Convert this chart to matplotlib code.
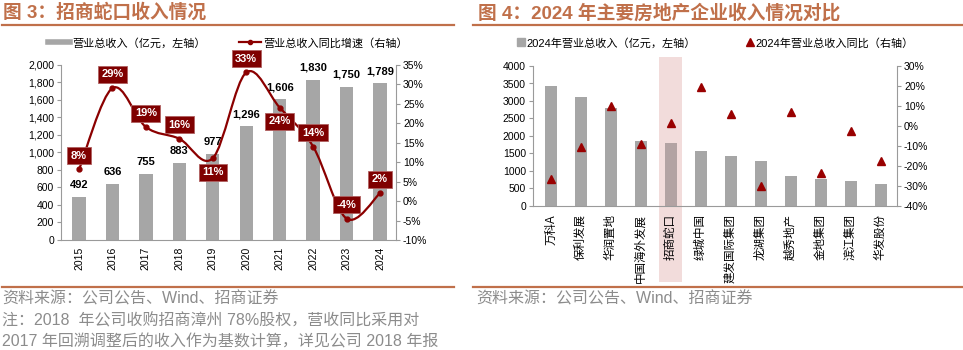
import matplotlib
matplotlib.use("Agg")
import matplotlib.pyplot as plt
from matplotlib.lines import Line2D
from matplotlib.patches import Rectangle
from matplotlib.path import Path
from matplotlib.patches import PathPatch
import matplotlib.transforms as mtransforms
from matplotlib.ticker import FuncFormatter, MultipleLocator

plt.rcParams['font.family'] = ['Liberation Sans', 'Noto Sans CJK SC', 'DejaVu Sans']

# ---------------- data ----------------
years = ['2015', '2016', '2017', '2018', '2019', '2020', '2021', '2022', '2023', '2024']
revenue = [492, 636, 755, 883, 977, 1296, 1606, 1830, 1750, 1789]
growth = [8.1, 29.0, 19.0, 16.0, 11.0, 33.0, 24.0, 14.0, -4.5, 2.0]
growth_labels = ['8%', '29%', '19%', '16%', '11%', '33%', '24%', '14%', '-4%', '2%']
label_above = [True, True, True, True, False, True, False, True, True, True]

companies = ['万科A', '保利发展', '华润置地', '中国海外发展', '招商蛇口', '绿城中国',
             '建发国际集团', '龙湖集团', '越秀地产', '金地集团', '滨江集团', '华发股份']
rev2024 = [3431, 3117, 2788, 1860, 1789, 1585, 1435, 1277, 866, 770, 707, 619]
yoy2024 = [-26.6, -10.5, 10.2, -9.0, 1.7, 19.7, 5.8, -29.8, 7.0, -23.6, -2.3, -17.3]
highlight = '招商蛇口'

TITLE_C = '#C0704A'
GREY = '#A6A6A6'
SPINE = '#9A9A9A'
RED = '#8B0000'
BOX = '#7F0000'
FOOT = '#8C8C8C'

fig = plt.figure(figsize=(9.63, 3.5), dpi=100)
W, H = 963.0, 350.0

def fx(px):
    return px / W

def fy(py):
    return 1 - py / H

# ---------------- titles and rules ----------------
fig.text(fx(3), fy(13), '图 3：招商蛇口收入情况', fontsize=13.5, fontweight='bold',
         color=TITLE_C, va='center', ha='left')
fig.text(fx(478), fy(13), '图 4：2024 年主要房地产企业收入情况对比', fontsize=13.5,
         fontweight='bold', color=TITLE_C, va='center', ha='left')
for x0, x1 in [(2, 454), (473, 963)]:
    fig.add_artist(Line2D([fx(x0), fx(x1)], [fy(25), fy(25)], color=TITLE_C, lw=1.6,
                          transform=fig.transFigure))
    fig.add_artist(Line2D([fx(x0), fx(x1)], [fy(286.5), fy(286.5)], color=TITLE_C, lw=1.6,
                          transform=fig.transFigure))

fig.text(fx(2), fy(299), '资料来源：公司公告、Wind、招商证券', fontsize=11.5, color=FOOT,
         va='center', ha='left')
fig.text(fx(2), fy(321), '注：2018  年公司收购招商漳州 78%股权，营收同比采用对', fontsize=11.5,
         color=FOOT, va='center', ha='left')
fig.text(fx(2), fy(342), '2017 年回溯调整后的收入作为基数计算，详见公司 2018 年报', fontsize=11.5,
         color=FOOT, va='center', ha='left')
fig.text(fx(476), fy(299), '资料来源：公司公告、Wind、招商证券', fontsize=11.5, color=FOOT,
         va='center', ha='left')

# ---------------- left chart ----------------
ax1 = fig.add_axes([fx(61), fy(240), fx(396) - fx(61), fy(64.7) - fy(240)])
x = list(range(len(years)))
ax1.bar(x, revenue, width=0.4, color=GREY, zorder=2)
ax1.set_ylim(0, 2000)
ax1.set_xlim(-0.54, 9.48)
ax1.yaxis.set_major_locator(MultipleLocator(200))
ax1.yaxis.set_major_formatter(FuncFormatter(lambda v, p: f'{int(v):,}'))
ax1.set_xticks(x)
ax1.set_xticklabels(years, rotation=90, fontsize=7.5)
ax1.tick_params(axis='x', length=0, pad=5)
ax1.tick_params(axis='y', labelsize=7.5, length=3, color=SPINE, direction='out', pad=2)
for s in ['top', 'right']:
    ax1.spines[s].set_visible(False)
for s in ['left', 'bottom']:
    ax1.spines[s].set_color(SPINE)
for xi, v in zip(x, revenue):
    ax1.annotate(f'{v:,}', (xi, v), xytext=(0, 5), textcoords='offset points',
                 ha='center', va='bottom', fontsize=8, fontweight='bold', color='black')

ax1b = ax1.twinx()
ax1b.set_ylim(-10, 35)
ax1b.yaxis.set_major_locator(MultipleLocator(5))
ax1b.yaxis.set_major_formatter(FuncFormatter(lambda v, p: f'{int(round(v))}%'))
ax1b.tick_params(axis='y', labelsize=7.5, length=3, color=SPINE, direction='out', pad=2)
for s in ['top', 'left', 'bottom']:
    ax1b.spines[s].set_visible(False)
ax1b.spines['right'].set_color(SPINE)

# smooth (Excel-like) curve through the points
pts = list(zip(x, growth))
verts = [pts[0]]
codes = [Path.MOVETO]
n = len(pts)
for i in range(n - 1):
    p0 = pts[i - 1] if i > 0 else pts[i]
    p1 = pts[i]
    p2 = pts[i + 1]
    p3 = pts[i + 2] if i + 2 < n else pts[i + 1]
    c1 = (p1[0] + (p2[0] - p0[0]) / 6.0, p1[1] + (p2[1] - p0[1]) / 6.0)
    c2 = (p2[0] - (p3[0] - p1[0]) / 6.0, p2[1] - (p3[1] - p1[1]) / 6.0)
    verts += [c1, c2, p2]
    codes += [Path.CURVE4, Path.CURVE4, Path.CURVE4]
ax1b.add_patch(PathPatch(Path(verts, codes), facecolor='none', edgecolor=RED, lw=1.6, zorder=3))
ax1b.plot(x, growth, linestyle='none', marker='o', markersize=3.5, color=RED, zorder=4)
for xi, g, lab, above in zip(x, growth, growth_labels, label_above):
    ax1b.annotate(lab, (xi, g), xytext=(0, 10 if above else -10), textcoords='offset points',
                  ha='center', va='center', fontsize=8, fontweight='bold', color='white',
                  bbox=dict(boxstyle='square,pad=0.32', facecolor=BOX, edgecolor='#B06060', lw=0.6),
                  zorder=5)

h1 = [Line2D([], [], color=GREY, lw=4),
      Line2D([], [], color=RED, lw=1.6, marker='o', markersize=3)]
fig.legend(h1, ['营业总收入（亿元，左轴）', '营业总收入同比增速（右轴）'], loc='center',
           bbox_to_anchor=(fx(228), fy(43)), ncol=2, frameon=False, fontsize=8,
           handlelength=2.0, handletextpad=0.2, columnspacing=3.0)

# ---------------- right chart ----------------
ax2 = fig.add_axes([fx(533), fy(206), fx(897) - fx(533), fy(66) - fy(206)])
xc = list(range(len(companies)))
hi = companies.index(highlight)
colors = ['#B3A3A3' if c == highlight else GREY for c in companies]
ax2.bar(xc, rev2024, width=0.4, color=colors, zorder=2)
ax2.set_ylim(0, 4000)
ax2.set_xlim(-0.6, 11.55)
ax2.yaxis.set_major_locator(MultipleLocator(500))
ax2.set_xticks(xc)
ax2.set_xticklabels(companies, rotation=90, fontsize=8.3, va='top')
ax2.tick_params(axis='x', length=0, pad=6)
ax2.tick_params(axis='y', labelsize=7.5, length=3, color=SPINE, direction='out', pad=2)
for s in ['top', 'right']:
    ax2.spines[s].set_visible(False)
for s in ['left', 'bottom']:
    ax2.spines[s].set_color(SPINE)

trans = mtransforms.blended_transform_factory(ax2.transData, fig.transFigure)
ax2.add_patch(Rectangle((hi - 0.38, fy(281.7)), 0.76, fy(56.7) - fy(281.7), transform=trans,
                        facecolor='#F2DCDB', edgecolor='none', clip_on=False, zorder=0))

ax2b = ax2.twinx()
ax2b.set_ylim(-40, 30)
ax2b.yaxis.set_major_locator(MultipleLocator(10))
ax2b.yaxis.set_major_formatter(FuncFormatter(lambda v, p: f'{int(round(v))}%'))
ax2b.tick_params(axis='y', labelsize=7.5, length=3, color=SPINE, direction='out', pad=2)
for s in ['top', 'left', 'bottom']:
    ax2b.spines[s].set_visible(False)
ax2b.spines['right'].set_color(SPINE)
ax2b.plot(xc, yoy2024, linestyle='none', marker='^', markersize=6, color='#990000', zorder=4)

h2 = [Line2D([], [], linestyle='none', marker='s', markersize=6, color=GREY),
      Line2D([], [], linestyle='none', marker='^', markersize=6, color='#990000')]
fig.legend(h2, ['2024年营业总收入（亿元，左轴）', '2024年营业总收入同比（右轴）'], loc='center',
           bbox_to_anchor=(fx(715), fy(43)), ncol=2, frameon=False, fontsize=8,
           handlelength=0.8, handletextpad=0.1, columnspacing=4.5)

fig.savefig('out.png', dpi=100)
